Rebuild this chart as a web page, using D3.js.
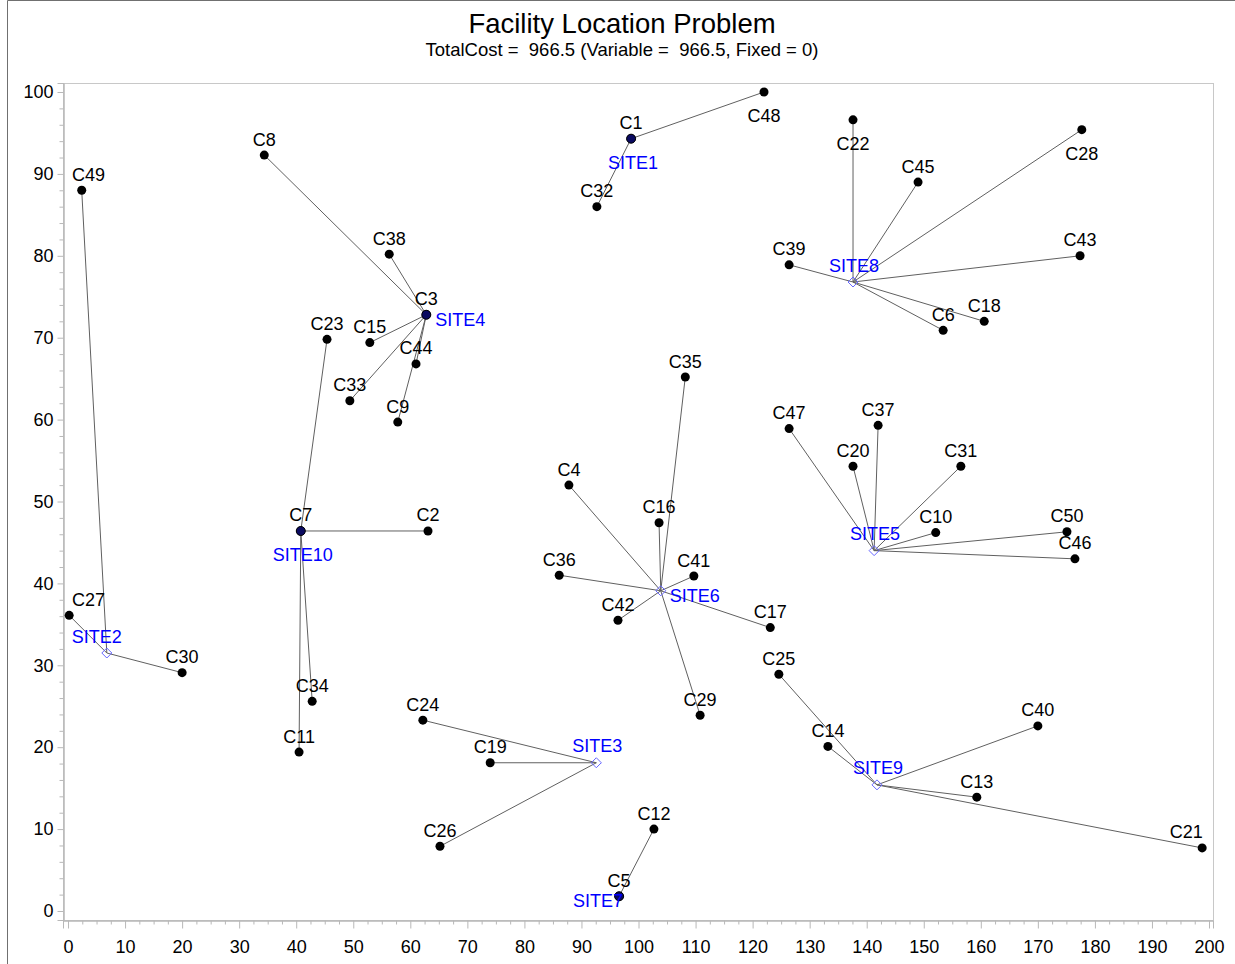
<!DOCTYPE html>
<html>
<head>
<meta charset="utf-8">
<script src="https://cdn.jsdelivr.net/npm/d3@7"></script>
<style>
  html, body { margin: 0; padding: 0; background: #fff; }
  svg { display: block; font-family: "Liberation Sans", Arial, sans-serif; }
</style>
</head>
<body>
<svg id="chart" width="1235" height="964"></svg>
<script>
// ---- Data ----
const customerNames = ["C1","C2","C3","C4","C5","C6","C7","C8","C9","C10",
  "C11","C12","C13","C14","C15","C16","C17","C18","C19","C20",
  "C21","C22","C23","C24","C25","C26","C27","C28","C29","C30",
  "C31","C32","C33","C34","C35","C36","C37","C38","C39","C40",
  "C41","C42","C43","C44","C45","C46","C47","C48","C49","C50"];
const customerX = [98.7,63.1,62.8,87.8,96.6,153.4,40.8,34.4,57.8,152.1,
  40.5,102.7,159.3,133.2,52.9,103.6,123.1,160.6,74.0,137.6,
  198.8,137.6,45.4,62.2,124.6,65.2,0.2,177.7,110.8,20.0,
  156.5,92.7,49.4,42.8,108.2,86.1,142.0,56.3,126.4,170.0,
  109.7,96.4,177.4,61.0,149.0,176.5,126.4,122.0,2.4,175.1];
const customerY = [94.3,46.4,72.8,52.0,1.8,70.9,46.4,92.3,59.7,46.2,
  19.4,10.0,13.9,20.1,69.4,47.4,34.6,72.0,18.1,54.3,
  7.7,96.6,69.8,23.3,28.9,7.9,36.1,95.4,23.9,29.1,
  54.3,86.0,62.3,25.6,65.2,41.0,59.3,80.2,78.9,22.6,
  40.9,35.5,80.0,66.8,89.0,43.0,58.9,100.0,88.0,46.3];
// site each customer is served by
const customerSite = ["SITE1","SITE10","SITE4","SITE6","SITE7","SITE8","SITE10","SITE4","SITE4","SITE5",
  "SITE10","SITE7","SITE9","SITE9","SITE4","SITE6","SITE6","SITE8","SITE3","SITE5",
  "SITE9","SITE8","SITE10","SITE3","SITE9","SITE3","SITE2","SITE8","SITE6","SITE2",
  "SITE5","SITE1","SITE4","SITE10","SITE6","SITE6","SITE5","SITE4","SITE8","SITE9",
  "SITE6","SITE6","SITE8","SITE4","SITE8","SITE5","SITE5","SITE1","SITE2","SITE5"];

const siteNames = ["SITE1","SITE2","SITE3","SITE4","SITE5","SITE6","SITE7","SITE8","SITE9","SITE10"];
const siteX = [98.7,6.8,92.6,62.8,141.3,103.9,96.6,137.6,141.8,40.8];
const siteY = [94.3,31.5,18.1,72.8,44.0,39.1,1.8,76.8,15.4,46.4];
// sites located exactly on a customer
const siteOnCustomer = [true,false,false,true,false,false,true,false,false,true];

const xTickValues = d3.range(0, 201, 10);
const yTickValues = d3.range(0, 101, 10);
const titleText = "Facility Location Problem";
const subtitleText = "TotalCost =  966.5 (Variable =  966.5, Fixed = 0)";

// ---- Label placement (layout only) ----
const customerLabelPos = {C48:"s", C22:"s", C28:"s", C21:"nw"};
const siteLabelPos = {SITE1:"s", SITE2:"nw", SITE3:"n", SITE4:"e", SITE5:"n",
  SITE6:"e", SITE7:"w", SITE8:"n", SITE9:"n", SITE10:"s"};

// ---- Layout ----
const svg = d3.select("#chart");
const plotL = 63, plotR = 1213, plotT = 83, plotB = 920;
const x = d3.scaleLinear().domain([-0.88, 200.7]).range([plotL, plotR]);
const y = d3.scaleLinear().domain([-1.1, 101.1]).range([plotB, plotT]);
const labelSize = 18;

// outer border
svg.append("path").attr("d", `M7.5,964 L7.5,0.5 L1235,0.5`)
  .attr("fill", "none").attr("stroke", "#707070").attr("stroke-width", 1);

// titles
svg.append("text").attr("x", 622).attr("y", 33).attr("text-anchor", "middle")
  .attr("font-size", 27.5).attr("fill", "#000").text(titleText);
svg.append("text").attr("x", 622).attr("y", 55.5).attr("text-anchor", "middle")
  .attr("font-size", 18.5).attr("fill", "#000").style("white-space", "pre").text(subtitleText);

// frame
svg.append("rect").attr("x", plotL + 0.5).attr("y", plotT + 0.5)
  .attr("width", plotR - plotL).attr("height", plotB - plotT)
  .attr("fill", "none").attr("stroke", "#c8c8c8");

const axisColor = "#b8b8b8";
// minor ticks
const xMinor = d3.range(0, 200.01, 2.5).filter(v => v % 10 !== 0);
const yMinor = d3.range(0, 100.01, 2).filter(v => v % 10 !== 0);
const gxMinor = svg.append("g").attr("transform", `translate(0,${plotB + 0.5})`)
  .call(d3.axisBottom(x).tickValues(xMinor).tickSize(4).tickFormat(""));
const gyMinor = svg.append("g").attr("transform", `translate(${plotL + 0.5},0)`)
  .call(d3.axisLeft(y).tickValues(yMinor).tickSize(4).tickFormat(""));
// major
const gx = svg.append("g").attr("transform", `translate(0,${plotB + 0.5})`)
  .call(d3.axisBottom(x).tickValues(xTickValues).tickSize(8).tickPadding(12).tickFormat(d3.format("d")));
const gy = svg.append("g").attr("transform", `translate(${plotL + 0.5},0)`)
  .call(d3.axisLeft(y).tickValues(yTickValues).tickSize(6).tickPadding(4).tickFormat(d3.format("d")));
[gxMinor, gyMinor, gx, gy].forEach(g => {
  g.selectAll("path.domain").attr("stroke", axisColor);
  g.selectAll(".tick line").attr("stroke", axisColor);
  g.selectAll("text").attr("font-size", 18).attr("fill", "#000")
    .attr("font-family", '"Liberation Sans", Arial, sans-serif');
});

// ---- Connection lines ----
const siteIndex = {};
siteNames.forEach((s, i) => siteIndex[s] = i);
const links = svg.append("g");
customerNames.forEach((c, i) => {
  const si = siteIndex[customerSite[i]];
  links.append("line")
    .attr("x1", x(siteX[si])).attr("y1", y(siteY[si]))
    .attr("x2", x(customerX[i])).attr("y2", y(customerY[i]))
    .attr("stroke", "#606060").attr("stroke-width", 1);
});

// ---- Customers ----
const pts = svg.append("g");
customerNames.forEach((c, i) => {
  pts.append("circle").attr("cx", x(customerX[i])).attr("cy", y(customerY[i]))
    .attr("r", 4.5).attr("fill", "#000");
});

// ---- Sites ----
siteNames.forEach((s, i) => {
  const cx = x(siteX[i]), cy = y(siteY[i]);
  if (siteOnCustomer[i]) {
    pts.append("circle").attr("cx", cx).attr("cy", cy).attr("r", 4.5)
      .attr("fill", "#0a0a60").attr("stroke", "#000").attr("stroke-width", 1);
  } else {
    const d = 5;
    pts.append("path")
      .attr("d", `M${cx},${cy - d} L${cx + d},${cy} L${cx},${cy + d} L${cx - d},${cy} Z`)
      .attr("fill", "none").attr("stroke", "#6666ff").attr("stroke-width", 1);
  }
});

// ---- Labels ----
const labels = svg.append("g").attr("font-size", labelSize);
function place(sel, px, py, pos) {
  let ax = px, ay = py - 9.5, anchor = "middle";
  if (pos === "s") { ay = py + 30; }
  else if (pos === "e") { ax = px + 9; ay = py + 11.5; anchor = "start"; }
  else if (pos === "w") { ax = px + 4; ay = py + 10.5; anchor = "end"; }
  else if (pos === "nw") { ax = px - 16; ay = py - 9.5; }
  sel.attr("x", ax).attr("y", ay).attr("text-anchor", anchor);
}
customerNames.forEach((c, i) => {
  const t = labels.append("text").attr("fill", "#000").text(c);
  const px = x(customerX[i]), py = y(customerY[i]);
  place(t, px, py, customerLabelPos[c] || "n");
  // keep labels inside the plot area
  const bb = t.node().getBBox();
  if (bb.x < plotL + 9) t.attr("x", +t.attr("x") + (plotL + 9 - bb.x));
  if (bb.x + bb.width > plotR - 3) t.attr("x", +t.attr("x") - (bb.x + bb.width - plotR + 3));
});
siteNames.forEach((s, i) => {
  const t = labels.append("text").attr("fill", "#0000ff").text(s);
  const px = x(siteX[i]), py = y(siteY[i]);
  const pos = siteLabelPos[s];
  if (pos === "nw") { t.attr("x", px - 10).attr("y", py - 10).attr("text-anchor", "middle"); }
  else if (pos === "n") { t.attr("x", px + 1).attr("y", py - 10.5).attr("text-anchor", "middle"); }
  else if (pos === "s") { t.attr("x", px + 2).attr("y", py + 30).attr("text-anchor", "middle"); }
  else place(t, px, py, pos);
});
</script>
</body>
</html>
